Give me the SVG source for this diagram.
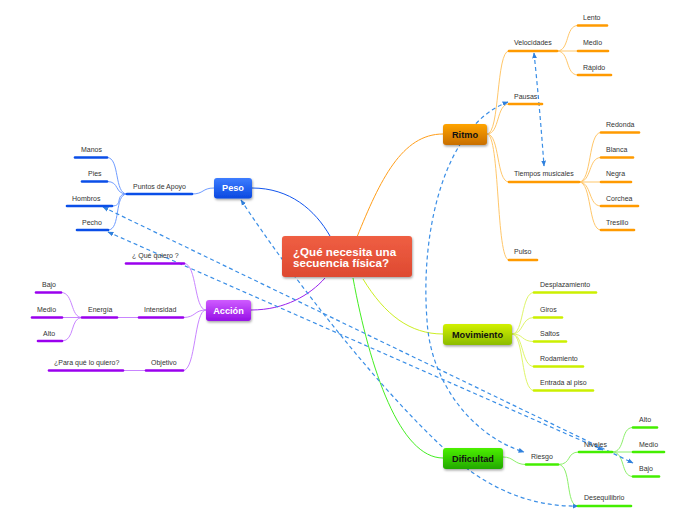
<svg xmlns="http://www.w3.org/2000/svg" width="696" height="520" viewBox="0 0 696 520">
<defs>
<linearGradient id="gC" x1="0" y1="0" x2="0" y2="1"><stop offset="0" stop-color="#ef5e43"/><stop offset="1" stop-color="#de4a31"/></linearGradient>
<linearGradient id="gR" x1="0" y1="0" x2="0" y2="1"><stop offset="0" stop-color="#ffa400"/><stop offset="1" stop-color="#c86e00"/></linearGradient>
<linearGradient id="gM" x1="0" y1="0" x2="0" y2="1"><stop offset="0" stop-color="#d2f000"/><stop offset="1" stop-color="#8cbc00"/></linearGradient>
<linearGradient id="gD" x1="0" y1="0" x2="0" y2="1"><stop offset="0" stop-color="#4cf000"/><stop offset="1" stop-color="#22a800"/></linearGradient>
<linearGradient id="gP" x1="0" y1="0" x2="0" y2="1"><stop offset="0" stop-color="#3d7dff"/><stop offset="1" stop-color="#0a48e0"/></linearGradient>
<linearGradient id="gA" x1="0" y1="0" x2="0" y2="1"><stop offset="0" stop-color="#cf5cff"/><stop offset="1" stop-color="#9610e6"/></linearGradient>
<filter id="sh" x="-20%" y="-20%" width="140%" height="160%"><feDropShadow dx="0.8" dy="1.5" stdDeviation="1" flood-color="#000" flood-opacity="0.35"/></filter>
<marker id="ar" viewBox="0 0 10 10" refX="9" refY="5" markerWidth="5" markerHeight="5" orient="auto-start-reverse"><path d="M0,1 L10,5 L0,9 z" fill="#2f80dd"/></marker>
</defs>
<style>
text{font-family:"Liberation Sans",Arial,sans-serif;}
.lb{font-size:7px;fill:#333;}
.nt{font-size:9.2px;font-weight:bold;text-anchor:middle;}
.ul{stroke-width:2.6;stroke-linecap:round;fill:none;}
.cn{fill:none;stroke-width:1;}
.rel{fill:none;stroke:#3a8ee6;stroke-width:1.2;stroke-dasharray:4 3;marker-start:url(#ar);marker-end:url(#ar);}
.o{stroke:#ff9a00;} .oc{stroke:#ffc76a;}
.y{stroke:#ccf000;} .yc{stroke:#dff56a;}
.g{stroke:#44ee00;} .gc{stroke:#8cf06a;}
.b{stroke:#0a4ee8;} .bc{stroke:#6f9cff;}
.p{stroke:#9a00ee;} .pc{stroke:#c985ff;}
</style>

<g id="connectors">
<!-- main branches -->
<path class="cn" stroke="#ff9e1a" stroke-width="1.5" d="M357,237 C380,180 402,134 443,134"/>
<path class="cn" stroke="#ccee22" stroke-width="1.5" d="M363,279 C385,315 410,334 443,334"/>
<path class="cn" stroke="#44ee22" stroke-width="1.5" d="M353,278 C370,370 400,458 443,458"/>
<path class="cn" stroke="#1155ee" stroke-width="1.5" d="M252,188 C290,188 315,210 330,236"/>
<path class="cn" stroke="#9922ee" stroke-width="1.5" d="M251,310 C285,310 310,295 325,278"/>
<!-- Ritmo children -->
<path class="cn oc" d="M487,134 C500,134 496,51 509,51"/>
<path class="cn oc" d="M487,134 C500,134 496,104 509,104"/>
<path class="cn oc" d="M487,134 C500,134 496,182 509,182"/>
<path class="cn oc" d="M487,134 C500,134 496,260 509,260"/>
<path class="cn oc" d="M557,51 C570,51 565,25.5 578,25.5"/>
<path class="cn oc" d="M557,51 L578,51"/>
<path class="cn oc" d="M557,51 C570,51 565,75 578,75"/>
<path class="cn oc" d="M579,182 C592,182 588,132.5 601,132.5"/>
<path class="cn oc" d="M579,182 C592,182 588,157.5 601,157.5"/>
<path class="cn oc" d="M579,182 L601,182"/>
<path class="cn oc" d="M579,182 C592,182 588,206 601,206"/>
<path class="cn oc" d="M579,182 C592,182 588,230 601,230"/>
<!-- Movimiento children -->
<path class="cn yc" d="M512,334 C524,334 521,292.5 534,292.5"/>
<path class="cn yc" d="M512,334 C524,334 521,317.5 534,317.5"/>
<path class="cn yc" d="M512,334 C524,334 521,341.5 534,341.5"/>
<path class="cn yc" d="M512,334 C524,334 521,366.5 534,366.5"/>
<path class="cn yc" d="M512,334 C524,334 521,390.5 534,390.5"/>
<!-- Dificultad children -->
<path class="cn gc" d="M503,457 C514,457 514,464.5 526,464.5"/>
<path class="cn gc" d="M558,464.5 C572,464.5 566,452 579,452"/>
<path class="cn gc" d="M558,464.5 C572,464.5 565,506 578,506"/>
<path class="cn gc" d="M612,452 C626,452 620,427.5 633,427.5"/>
<path class="cn gc" d="M612,452 L633,452"/>
<path class="cn gc" d="M612,452 C626,452 620,476.5 633,476.5"/>
<!-- Peso children -->
<path class="cn bc" d="M214,188 C202,188 204,194 192,194"/>
<path class="cn bc" d="M127,194 C114,194 120,157.5 107,157.5"/>
<path class="cn bc" d="M127,194 C114,194 120,181.5 107,181.5"/>
<path class="cn bc" d="M127,194 C114,194 124,206 112,206"/>
<path class="cn bc" d="M127,194 C114,194 121,230 108,230"/>
<!-- Accion children -->
<path class="cn pc" d="M206,310 C194,310 197,263.5 184,263.5"/>
<path class="cn pc" d="M206,310 C194,310 196,317.5 183,317.5"/>
<path class="cn pc" d="M206,310 C194,310 196,370.5 183,370.5"/>
<path class="cn pc" d="M117,317.5 L139,317.5"/>
<path class="cn pc" d="M123,370.5 L146,370.5"/>
<path class="cn pc" d="M82,317.5 C70,317.5 74,292.5 61,292.5"/>
<path class="cn pc" d="M82,317.5 L62,317.5"/>
<path class="cn pc" d="M82,317.5 C70,317.5 75,341 62,341"/>
<!-- relations -->
<path class="rel" d="M241,200 C290,275 390,405 465,467 C500,494 540,507 578,506"/>
<path class="rel" d="M103,207 L633,463"/>
<path class="rel" d="M108,232 L603,450"/>
<path class="rel" d="M508,102 C445,125 420,230 427,320 C430,380 470,435 524,452"/>
<path class="rel" d="M534,53 Q540,110 544,166"/>
</g>

<g id="center">
<rect x="282" y="236" width="130" height="41" rx="3" fill="url(#gC)" filter="url(#sh)"/>
<text x="293" y="255.5" font-size="11.6" font-weight="bold" fill="#fff">¿Qué necesita una</text>
<text x="293" y="267" font-size="11.6" font-weight="bold" fill="#fff">secuencia física?</text>
</g>

<g id="ritmo">
<rect x="443" y="124" width="44" height="21" rx="3" fill="url(#gR)" filter="url(#sh)"/>
<text class="nt" x="465" y="137.5" fill="#111">Ritmo</text>
</g>
<g id="velocidades"><line class="ul o" x1="509" y1="51" x2="557" y2="51"/><text class="lb" x="514" y="45.3">Velocidades</text></g>
<g id="lento"><line class="ul o" x1="578" y1="25.5" x2="607" y2="25.5"/><text class="lb" x="583" y="20">Lento</text></g>
<g id="medio-v"><line class="ul o" x1="578" y1="51" x2="608" y2="51"/><text class="lb" x="583" y="45.3">Medio</text></g>
<g id="rapido"><line class="ul o" x1="578" y1="75" x2="611" y2="75"/><text class="lb" x="583" y="69.5">Rápido</text></g>
<g id="pausas"><line class="ul o" x1="509" y1="104" x2="542" y2="104"/><text class="lb" x="514" y="98.5">Pausas</text></g>
<g id="tiempos"><line class="ul o" x1="509" y1="182" x2="579" y2="182"/><text class="lb" x="514" y="176.3">Tiempos musicales</text></g>
<g id="redonda"><line class="ul o" x1="601" y1="132.5" x2="639" y2="132.5"/><text class="lb" x="606" y="127">Redonda</text></g>
<g id="blanca"><line class="ul o" x1="601" y1="157.5" x2="633" y2="157.5"/><text class="lb" x="606" y="152">Blanca</text></g>
<g id="negra"><line class="ul o" x1="601" y1="182" x2="631" y2="182"/><text class="lb" x="606" y="176.3">Negra</text></g>
<g id="corchea"><line class="ul o" x1="601" y1="206" x2="638" y2="206"/><text class="lb" x="606" y="200.5">Corchea</text></g>
<g id="tresillo"><line class="ul o" x1="601" y1="230" x2="634" y2="230"/><text class="lb" x="606" y="224.5">Tresillo</text></g>
<g id="pulso"><line class="ul o" x1="509" y1="260" x2="537" y2="260"/><text class="lb" x="514" y="254">Pulso</text></g>

<g id="movimiento">
<rect x="443" y="324" width="69" height="21" rx="3" fill="url(#gM)" filter="url(#sh)"/>
<text class="nt" x="477.5" y="337.7" fill="#111">Movimiento</text>
</g>
<g id="desplazamiento"><line class="ul y" x1="534" y1="292.5" x2="596" y2="292.5"/><text class="lb" x="540" y="287">Desplazamiento</text></g>
<g id="giros"><line class="ul y" x1="534" y1="317.5" x2="562" y2="317.5"/><text class="lb" x="540" y="312">Giros</text></g>
<g id="saltos"><line class="ul y" x1="534" y1="341.5" x2="566" y2="341.5"/><text class="lb" x="540" y="336">Saltos</text></g>
<g id="rodamiento"><line class="ul y" x1="534" y1="366.5" x2="583" y2="366.5"/><text class="lb" x="540" y="361">Rodamiento</text></g>
<g id="entrada"><line class="ul y" x1="534" y1="390.5" x2="593" y2="390.5"/><text class="lb" x="540" y="385">Entrada al piso</text></g>

<g id="dificultad">
<rect x="443" y="448" width="60" height="21" rx="3" fill="url(#gD)" filter="url(#sh)"/>
<text class="nt" x="473" y="461.5" fill="#111">Dificultad</text>
</g>
<g id="riesgo"><line class="ul g" x1="526" y1="464.5" x2="558" y2="464.5"/><text class="lb" x="531" y="459">Riesgo</text></g>
<g id="niveles"><line class="ul g" x1="579" y1="452" x2="612" y2="452"/><text class="lb" x="584" y="446.5">Niveles</text></g>
<g id="desequilibrio"><line class="ul g" x1="578" y1="506" x2="631" y2="506"/><text class="lb" x="584" y="500">Desequilibrio</text></g>
<g id="alto-n"><line class="ul g" x1="633" y1="427.5" x2="657" y2="427.5"/><text class="lb" x="639" y="422">Alto</text></g>
<g id="medio-n"><line class="ul g" x1="633" y1="452" x2="664" y2="452"/><text class="lb" x="639" y="446.5">Medio</text></g>
<g id="bajo-n"><line class="ul g" x1="633" y1="476.5" x2="659" y2="476.5"/><text class="lb" x="639" y="471">Bajo</text></g>

<g id="peso">
<rect x="214" y="178" width="38" height="20.5" rx="3" fill="url(#gP)" filter="url(#sh)"/>
<text class="nt" x="233" y="191.3" fill="#fff">Peso</text>
</g>
<g id="puntos"><line class="ul b" x1="127" y1="194" x2="192" y2="194"/><text class="lb" x="133" y="188.5">Puntos de Apoyo</text></g>
<g id="manos"><line class="ul b" x1="75" y1="157.5" x2="107" y2="157.5"/><text class="lb" x="81" y="152">Manos</text></g>
<g id="pies"><line class="ul b" x1="82" y1="181.5" x2="107" y2="181.5"/><text class="lb" x="88" y="176">Pies</text></g>
<g id="hombros"><line class="ul b" x1="67" y1="206" x2="112" y2="206"/><text class="lb" x="72" y="200.5">Hombros</text></g>
<g id="pecho"><line class="ul b" x1="77" y1="230" x2="108" y2="230"/><text class="lb" x="82" y="224.5">Pecho</text></g>

<g id="accion">
<rect x="206" y="300" width="45" height="21" rx="3" fill="url(#gA)" filter="url(#sh)"/>
<text class="nt" x="228.5" y="313.5" fill="#fff">Acción</text>
</g>
<g id="que-quiero"><line class="ul p" x1="126" y1="263.5" x2="184" y2="263.5"/><text class="lb" x="132" y="258">¿ Qué quiero ?</text></g>
<g id="intensidad"><line class="ul p" x1="139" y1="317.5" x2="183" y2="317.5"/><text class="lb" x="144" y="312">Intensidad</text></g>
<g id="objetivo"><line class="ul p" x1="146" y1="370.5" x2="183" y2="370.5"/><text class="lb" x="151" y="365">Objetivo</text></g>
<g id="energia"><line class="ul p" x1="82" y1="317.5" x2="117" y2="317.5"/><text class="lb" x="88" y="312">Energía</text></g>
<g id="para-que"><line class="ul p" x1="49" y1="370.5" x2="123" y2="370.5"/><text class="lb" x="54" y="365">¿Para qué lo quiero?</text></g>
<g id="bajo-a"><line class="ul p" x1="36" y1="292.5" x2="61" y2="292.5"/><text class="lb" x="42" y="287">Bajo</text></g>
<g id="medio-a"><line class="ul p" x1="32" y1="317.5" x2="62" y2="317.5"/><text class="lb" x="37" y="312">Medio</text></g>
<g id="alto-a"><line class="ul p" x1="38" y1="341" x2="62" y2="341"/><text class="lb" x="43" y="335.5">Alto</text></g>
</svg>
